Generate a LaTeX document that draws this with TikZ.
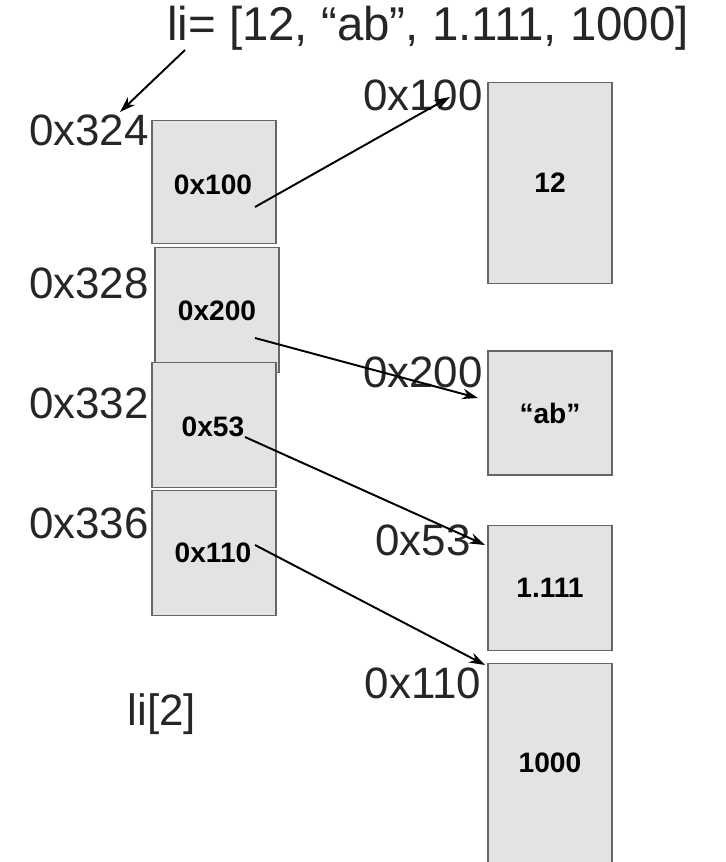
\documentclass[tikz,border=0pt]{standalone}
\usepackage{fontspec}
\setmainfont{Liberation Sans}
\usetikzlibrary{arrows.meta}
\begin{document}
\begin{tikzpicture}[x=0.02cm,y=-0.02cm,
  box/.style={draw=gray!80!black,fill=gray!22,line width=0.6pt,font=\fontsize{16}{19}\selectfont\bfseries},
  btxt/.style={font=\fontsize{16}{19}\selectfont\bfseries},
  lbl/.style={font=\fontsize{25}{30}\selectfont,text=black!85},
  arr/.style={-{Stealth[length=9pt,width=6pt]},line width=1.1pt}]
\useasboundingbox (0,0) rectangle (726,862);
\node[box,minimum width=2.48cm,minimum height=2.46cm] (a1) at (214,182) {};
\node[box,minimum width=2.48cm,minimum height=2.5cm] (a2) at (217,310) {};
\node[box,minimum width=2.48cm,minimum height=2.5cm] (a3) at (214,425) {};
\node[box,minimum width=2.48cm,minimum height=2.5cm] (a4) at (214,553) {};
\node[btxt] (t1) at (213,185) {0x100};
\node[btxt] (t2) at (217,311) {0x200};
\node[btxt] (t3) at (213,427) {0x53};
\node[btxt] (t4) at (213,553) {0x110};
\node[box,minimum width=2.48cm,minimum height=4.02cm] (b1) at (550,183) {12};
\node[box,minimum width=2.48cm,minimum height=2.48cm] (b2) at (550,413) {“ab”};
\node[box,minimum width=2.48cm,minimum height=2.5cm] (b3) at (550,588) {1.111};
\node[box,minimum width=2.48cm,minimum height=4cm] (b4) at (550,763) {1000};
\node[lbl,font=\fontsize{27}{32}\selectfont] (top) at (428,28) {li= [12, “ab”, 1.111, 1000]};
\node[lbl] (l1) at (89,130) {0x324};
\node[lbl] (l2) at (89,283) {0x328};
\node[lbl] (l3) at (89,403) {0x332};
\node[lbl] (l4) at (89,523) {0x336};
\node[lbl] (r1) at (423,95) {0x100};
\node[lbl] (r2) at (423,372) {0x200};
\node[lbl] (r3) at (423,540) {0x53};
\node[lbl] (r4) at (423,683) {0x110};
\node[lbl] (li2) at (162,714) {li[2]};
\coordinate (s0) at (185,50); \coordinate (e0) at (120,112);
\coordinate (s1) at (255,207); \coordinate (e1) at (450,97);
\coordinate (s2) at (255,338); \coordinate (e2) at (478,398);
\coordinate (s3) at (245,437); \coordinate (e3) at (485,545);
\coordinate (s4) at (255,545); \coordinate (e4) at (485,665);
\draw[arr] (s0) -- (e0);
\draw[arr] (s1) -- (e1);
\draw[arr] (s2) -- (e2);
\draw[arr] (s3) -- (e3);
\draw[arr] (s4) -- (e4);
\end{tikzpicture}
\end{document}
